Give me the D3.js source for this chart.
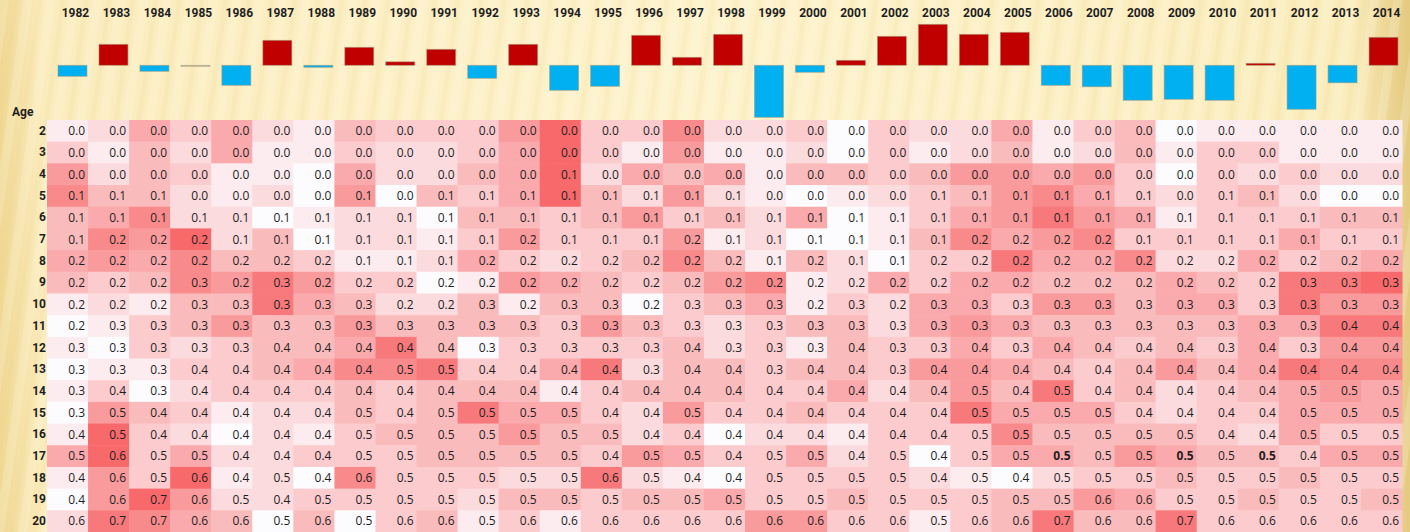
<!DOCTYPE html>
<html>
<head>
<meta charset="utf-8">
<script src="https://cdn.jsdelivr.net/npm/d3@7"></script>
<style>
  body { margin: 0; background: #fcefc4; }
  svg { display: block; }
</style>
</head>
<body>
<script>
// categories
var years = [1982, 1983, 1984, 1985, 1986, 1987, 1988, 1989, 1990, 1991, 1992, 1993, 1994, 1995, 1996, 1997,
  1998, 1999, 2000, 2001, 2002, 2003, 2004, 2005, 2006, 2007, 2008, 2009, 2010, 2011, 2012, 2013, 2014];
var ages = [2, 3, 4, 5, 6, 7, 8, 9, 10, 11, 12, 13, 14, 15, 16, 17, 18, 19, 20];

// top bar series (anomaly, arbitrary units)
var barValues = [-11, 21, -6, -0.5, -20, 25, -2, 18, 3.5, 16, -13, 21, -25, -21, 30, 8, 31, -52, -7, 5, 29, 41,
  31, 33, -20, -21.5, -35, -34, -35, 2, -44, -17.5, 28];

// cell values, one row per age, one column per year
var rates = [
  [0.0,0.0,0.0,0.0,0.0,0.0,0.0,0.0,0.0,0.0,0.0,0.0,0.0,0.0,0.0,0.0,0.0,0.0,0.0,0.0,0.0,0.0,0.0,0.0,0.0,0.0,0.0,0.0,0.0,0.0,0.0,0.0,0.0],
  [0.0,0.0,0.0,0.0,0.0,0.0,0.0,0.0,0.0,0.0,0.0,0.0,0.0,0.0,0.0,0.0,0.0,0.0,0.0,0.0,0.0,0.0,0.0,0.0,0.0,0.0,0.0,0.0,0.0,0.0,0.0,0.0,0.0],
  [0.0,0.0,0.0,0.0,0.0,0.0,0.0,0.0,0.0,0.0,0.0,0.0,0.1,0.0,0.0,0.0,0.0,0.0,0.0,0.0,0.0,0.0,0.0,0.0,0.0,0.0,0.0,0.0,0.0,0.0,0.0,0.0,0.0],
  [0.1,0.1,0.1,0.0,0.0,0.0,0.0,0.1,0.0,0.1,0.1,0.1,0.1,0.1,0.1,0.1,0.1,0.0,0.0,0.0,0.0,0.1,0.1,0.1,0.1,0.1,0.1,0.0,0.1,0.1,0.0,0.0,0.0],
  [0.1,0.1,0.1,0.1,0.1,0.1,0.1,0.1,0.1,0.1,0.1,0.1,0.1,0.1,0.1,0.1,0.1,0.1,0.1,0.1,0.1,0.1,0.1,0.1,0.1,0.1,0.1,0.1,0.1,0.1,0.1,0.1,0.1],
  [0.1,0.2,0.2,0.2,0.1,0.1,0.1,0.1,0.1,0.1,0.1,0.2,0.1,0.1,0.1,0.2,0.1,0.1,0.1,0.1,0.1,0.1,0.2,0.2,0.2,0.2,0.1,0.1,0.1,0.1,0.1,0.1,0.1],
  [0.2,0.2,0.2,0.2,0.2,0.2,0.2,0.1,0.1,0.1,0.2,0.2,0.2,0.2,0.2,0.2,0.2,0.1,0.2,0.1,0.1,0.2,0.2,0.2,0.2,0.2,0.2,0.2,0.2,0.2,0.2,0.2,0.2],
  [0.2,0.2,0.2,0.3,0.2,0.3,0.2,0.2,0.2,0.2,0.2,0.2,0.2,0.2,0.2,0.2,0.2,0.2,0.2,0.2,0.2,0.2,0.2,0.2,0.2,0.2,0.2,0.2,0.2,0.2,0.3,0.3,0.3],
  [0.2,0.2,0.2,0.3,0.3,0.3,0.3,0.3,0.2,0.2,0.3,0.2,0.3,0.3,0.2,0.3,0.3,0.3,0.2,0.3,0.2,0.3,0.3,0.3,0.3,0.3,0.3,0.3,0.3,0.3,0.3,0.3,0.3],
  [0.2,0.3,0.3,0.3,0.3,0.3,0.3,0.3,0.3,0.3,0.3,0.3,0.3,0.3,0.3,0.3,0.3,0.3,0.3,0.3,0.3,0.3,0.3,0.3,0.3,0.3,0.3,0.3,0.3,0.3,0.3,0.4,0.4],
  [0.3,0.3,0.3,0.3,0.3,0.4,0.4,0.4,0.4,0.4,0.3,0.3,0.3,0.3,0.3,0.4,0.3,0.3,0.3,0.4,0.3,0.3,0.4,0.3,0.4,0.4,0.4,0.4,0.3,0.4,0.3,0.4,0.4],
  [0.3,0.3,0.3,0.4,0.4,0.4,0.4,0.4,0.5,0.5,0.4,0.4,0.4,0.4,0.3,0.4,0.4,0.3,0.4,0.4,0.3,0.4,0.4,0.4,0.4,0.4,0.4,0.4,0.4,0.4,0.4,0.4,0.4],
  [0.3,0.4,0.3,0.4,0.4,0.4,0.4,0.4,0.4,0.4,0.4,0.4,0.4,0.4,0.4,0.4,0.4,0.4,0.4,0.4,0.4,0.4,0.5,0.4,0.5,0.4,0.4,0.4,0.4,0.4,0.5,0.5,0.5],
  [0.3,0.5,0.4,0.4,0.4,0.4,0.4,0.5,0.4,0.5,0.5,0.5,0.5,0.4,0.4,0.5,0.4,0.4,0.4,0.4,0.4,0.4,0.5,0.5,0.5,0.5,0.4,0.4,0.4,0.4,0.5,0.5,0.5],
  [0.4,0.5,0.4,0.4,0.4,0.4,0.4,0.5,0.5,0.5,0.5,0.5,0.5,0.5,0.4,0.4,0.4,0.4,0.4,0.4,0.4,0.4,0.5,0.5,0.5,0.5,0.5,0.5,0.4,0.4,0.5,0.5,0.5],
  [0.5,0.6,0.5,0.5,0.4,0.4,0.4,0.5,0.5,0.5,0.5,0.5,0.5,0.4,0.5,0.5,0.4,0.5,0.5,0.4,0.5,0.4,0.5,0.5,0.5,0.5,0.5,0.5,0.5,0.5,0.4,0.5,0.5],
  [0.4,0.6,0.5,0.6,0.4,0.5,0.4,0.6,0.5,0.5,0.5,0.5,0.5,0.6,0.5,0.4,0.4,0.5,0.5,0.5,0.5,0.4,0.5,0.4,0.5,0.5,0.5,0.5,0.5,0.5,0.5,0.5,0.5],
  [0.4,0.6,0.7,0.6,0.5,0.4,0.5,0.5,0.5,0.5,0.5,0.5,0.5,0.5,0.5,0.5,0.5,0.5,0.5,0.5,0.5,0.5,0.5,0.5,0.5,0.6,0.6,0.5,0.5,0.5,0.5,0.5,0.5],
  [0.6,0.7,0.7,0.6,0.6,0.5,0.6,0.5,0.6,0.6,0.5,0.6,0.6,0.6,0.6,0.6,0.6,0.6,0.6,0.6,0.6,0.5,0.6,0.6,0.7,0.6,0.6,0.7,0.6,0.6,0.6,0.6,0.6]
];

// colour-scale level of each cell (0 = lowest .. 9 = highest)
var shades = [
  "1253521433" + "369337223032" + "25134011111",
  "3142511322" + "359316112031" + "24124133111",
  "6243110522" + "459254514434" + "66563032322",
  "7442120604" + "359426210123" + "46753234200",
  "4572201220" + "443463425013" + "56865133344",
  "4769240221" + "363336120014" + "75673333533",
  "5657443112" + "532347414203" + "38557225345",
  "4347686330" + "165434671253" + "55444543889",
  "1214485422" + "414403451325" + "53664553866",
  "0134644644" + "443643234425" + "65444445588",
  "1032344584" + "033334231433" + "53543435366",
  "0113345778" + "335824434436" + "65434645877",
  "1302333434" + "441344433524" + "64834234565",
  "0643122434" + "855326334333" + "85553233555",
  "1932021344" + "464423022133" + "37444432533",
  "5935223334" + "444365335230" + "35546544355",
  "1639120733" + "322821033332" + "10233433433",
  "0696223333" + "244344533433" + "34465334334",
  "2875404034" + "131333366331" + "34844833333"
];

// cells printed in bold [age, year]
var boldCells = [[17, 2006], [17, 2009], [17, 2011]];

var svgWidth = 1410;
var svgHeight = 532;

var svg = d3.select("body")
  .append("svg")
  .attr("width", svgWidth)
  .attr("height", svgHeight);

// background: cream paper with soft streaks
var defs = svg.append("defs");
var grad = defs.append("linearGradient").attr("id", "bg");
[[0, "#f0d792"], [0.03, "#fbecbd"], [0.5, "#fdf2cb"], [0.96, "#faecbb"], [1, "#e4c97e"]].forEach(function (s) {
  grad.append("stop").attr("offset", s[0]).attr("stop-color", s[1]);
});
var streak = defs.append("pattern")
  .attr("id", "streak")
  .attr("width", 23)
  .attr("height", 60)
  .attr("patternUnits", "userSpaceOnUse")
  .attr("patternTransform", "rotate(8)");
streak.append("rect").attr("width", 9).attr("height", 60).attr("fill", "#fffbe6").attr("opacity", 0.22);
streak.append("rect").attr("x", 14).attr("width", 5).attr("height", 60).attr("fill", "#e6cd8a").attr("opacity", 0.12);

svg.append("rect").attr("width", svgWidth).attr("height", svgHeight).attr("fill", "url(#bg)");
svg.append("rect").attr("width", svgWidth).attr("height", svgHeight).attr("fill", "url(#streak)");

// heatmap scales
var xCell = d3.scaleBand().domain(years).range([47, 1402]);
var yCell = d3.scaleBand().domain(ages).range([120, 532]);
var shadeColor = d3.scaleLinear()
  .domain([0, 9])
  .range(["#fcfcff", "#f8696b"])
  .interpolate(d3.interpolateRgb);

var cells = [];
ages.forEach(function (age, i) {
  years.forEach(function (yr, j) {
    cells.push({
      age: age,
      year: yr,
      value: rates[i][j],
      shade: +shades[i][j],
      bold: boldCells.some(function (b) { return b[0] === age && b[1] === yr; })
    });
  });
});

var heat = svg.append("g");
heat.selectAll("rect")
  .data(cells)
  .enter()
  .append("rect")
  .attr("x", d => xCell(d.year))
  .attr("y", d => yCell(d.age))
  .attr("width", xCell.bandwidth() + 0.5)
  .attr("height", yCell.bandwidth() + 0.5)
  .attr("fill", d => shadeColor(d.shade));

heat.selectAll("text")
  .data(cells)
  .enter()
  .append("text")
  .attr("x", d => xCell(d.year) + xCell.bandwidth() - 3)
  .attr("y", d => yCell(d.age) + yCell.bandwidth() / 2)
  .attr("dy", "0.36em")
  .attr("text-anchor", "end")
  .style("font-family", "'Open Sans', 'Noto Sans', sans-serif")
  .style("font-size", "12px")
  .style("font-weight", d => d.bold ? "bold" : "normal")
  .style("fill", "#1e1e1e")
  .text(d => d3.format(".1f")(d.value));

// age labels
var ageAxis = d3.axisLeft(yCell).tickSize(0).tickPadding(0);
var ageG = svg.append("g")
  .attr("transform", "translate(46,0)")
  .call(ageAxis);
ageG.select(".domain").remove();
ageG.selectAll("text")
  .style("font-family", "'Liberation Sans Narrow', 'Roboto', sans-serif")
  .style("font-weight", "bold")
  .style("font-size", "12px")
  .style("fill", "#1e1e1e");

svg.append("text")
  .attr("x", 12)
  .attr("y", 116)
  .style("font-family", "'Liberation Sans Narrow', 'Roboto', sans-serif")
  .style("font-weight", "bold")
  .style("font-size", "12px")
  .style("fill", "#1e1e1e")
  .text("Age");

// top bars
var xBar = d3.scaleBand().domain(years).range([52, 1404]);
var yBar = d3.scaleLinear().domain([-60, 45]).range([125.3, 20.3]);
var barW = 29;

svg.append("g")
  .selectAll("rect")
  .data(barValues)
  .enter()
  .append("rect")
  .attr("x", (d, i) => xBar(years[i]) + xBar.bandwidth() / 2 - barW / 2)
  .attr("y", d => yBar(Math.max(0, d)))
  .attr("width", barW)
  .attr("height", d => Math.max(1, Math.abs(yBar(d) - yBar(0))))
  .attr("fill", d => Math.abs(d) < 1 ? "#c9c3ad" : (d > 0 ? "#c00000" : "#00b0f0"))
  .attr("stroke", "#a89c7c")
  .attr("stroke-opacity", 0.7)
  .attr("stroke-width", 0.8);

// year labels
var yearAxis = d3.axisTop(xBar).tickSize(0).tickPadding(0);
var yearG = svg.append("g")
  .attr("transform", "translate(3,17)")
  .call(yearAxis);
yearG.select(".domain").remove();
yearG.selectAll("text")
  .style("font-family", "'Liberation Sans Narrow', 'Roboto', sans-serif")
  .style("font-weight", "bold")
  .style("font-size", "12px")
  .style("fill", "#1e1e1e");
</script>
</body>
</html>
